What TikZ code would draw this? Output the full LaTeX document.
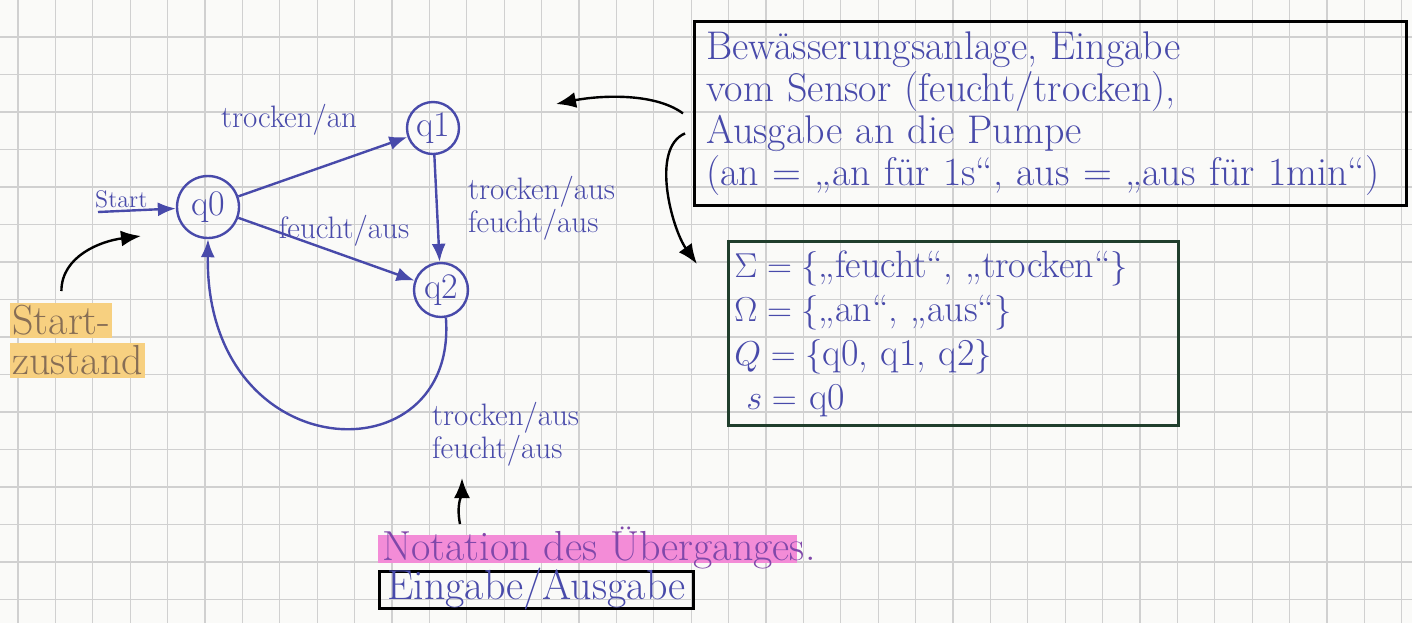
\documentclass[tikz,border=0pt]{standalone}
\usepackage{amsmath}
\usepackage{amssymb}
\usetikzlibrary{positioning, arrows.meta, calc}
\definecolor{ink}{RGB}{72,74,170}
\definecolor{inkpurple}{RGB}{128,72,170}
\definecolor{penbrown}{RGB}{135,110,85}
\definecolor{boxgreen}{RGB}{32,62,44}
\definecolor{hlyellow}{RGB}{247,208,128}
\definecolor{hlpink}{RGB}{243,140,215}
\definecolor{paper}{RGB}{250,250,248}
\definecolor{gridgray}{RGB}{208,208,208}

\begin{document}
\begin{tikzpicture}[x=0.5pt, y=-0.5pt, >=Latex,
  state/.style={draw=ink, circle, line width=1.2pt, text=ink, inner sep=0pt, minimum size=26pt, font=\fontsize{18}{18}\selectfont},
  trans/.style={ink, line width=1.2pt, -{Latex[length=9pt, width=7pt]}},
  lbl/.style={text=ink, font=\fontsize{15.5}{14}\selectfont, align=left, inner sep=1pt},
  annot/.style={black, line width=1.2pt, -{Latex[length=10pt, width=8pt]}},
  note/.style={draw, line width=1.4pt, rectangle, align=left, text=ink, inner sep=0pt},
  marker/.style={text=penbrown, font=\fontsize{21}{21}\selectfont, inner sep=1pt, text height=14.5pt, text depth=1pt, fill=hlyellow}]

  \useasboundingbox (0,0) rectangle (1412,623);
  \fill[paper] (0,0) rectangle (1412,623);
  % squared paper
  \foreach \i in {0,...,37}
    \draw[gridgray, line width=0.6pt] ({18+37.4*\i},0) -- ({18+37.4*\i},623);
  \foreach \j in {0,...,15}
    \draw[gridgray, line width=0.6pt] (0,{37+37.5*\j}) -- (1412,{37+37.5*\j});

  % automaton
  \node[state, minimum size=31pt] (q0) at (208,207) {q0};
  \node[state] (q1) at (433,128) {q1};
  \node[state, minimum size=27pt] (q2) at (441,290) {q2};
  \coordinate (startin) at (98,212);

  \draw[trans] (startin) -- node[lbl, above, pos=0.3, font=\fontsize{12}{12}\selectfont] {Start} (q0);
  \draw[trans] (q0) -- node[lbl, pos=0.3, above=20pt] {trocken/an} (q1);
  \draw[trans] (q0) -- node[lbl, pos=0.6, above=3pt] {feucht/aus} (q2);
  \draw[trans] (q1) -- node[lbl, right=14pt] {trocken/aus\\feucht/aus} (q2);
  \draw[trans] (q2.-80) .. controls (458,480) and (205,470) .. (q0.south)
    node[lbl, pos=0.22, anchor=north west, xshift=4pt] (looplbl) {trocken/aus\\feucht/aus};

  % notes
  \node[note, anchor=north west, minimum width=356pt, minimum height=92pt, text width=344pt,
    font=\fontsize{20}{21}\selectfont] (sysbox) at (693,20)
    {Bewässerungsanlage, Eingabe\\vom Sensor (feucht/trocken),\\Ausgabe an die Pumpe\\(an = „an für 1s“, aus = „aus für 1min“)};
  \node[note, draw=boxgreen, anchor=north west, minimum width=225pt, minimum height=92pt, text width=219pt,
    font=\fontsize{19}{22}\selectfont] (setbox) at (727,240)
    {\mbox{$\Sigma = \{$„feucht“, „trocken“$\}$}\\\mbox{$\Omega = \{$„an“, „aus“$\}$}\\\mbox{$Q = \{$q0, q1, q2$\}$}\\\mbox{\hspace{6pt}$s =$ q0}};

  \fill[hlpink] (378,535) rectangle (797,563);
  \node[text=inkpurple, font=\fontsize{21}{21}\selectfont, anchor=west, inner sep=1pt] (notation) at (380,548) {Notation des Überganges.};
  \node[note, anchor=north west, minimum width=157pt, minimum height=18.5pt, text height=13pt, text depth=3pt,
    font=\fontsize{21}{21}\selectfont] (iobox) at (378,570) {Eingabe/Ausgabe};

  \node[marker, anchor=north west] (start1) at (10,303) {Start-};
  \node[marker, below=2pt of start1.south west, anchor=north west] (start2) {zustand};

  % pointers
  \coordinate (startptr) at (141,236);
  \coordinate (q1ptr) at (556,104);
  \coordinate (setptr) at (697,264);
  \coordinate (notefoot) at (460,524);
  \coordinate (notetip) at (462,478);
  \draw[annot] ([yshift=6pt]start1.north) .. controls +(0,-35) and +(-40,5) .. (startptr);
  \draw[annot] ([xshift=-5pt]sysbox.west) .. controls +(-30,-22) and +(40,-8) .. (q1ptr);
  \draw[annot] ([xshift=-4pt, yshift=-10pt]sysbox.west) .. controls +(-35,15) and +(-25,-35) .. (setptr);
  \draw[annot] (notefoot) .. controls +(-4,-20) and +(0,15) .. (notetip);
\end{tikzpicture}
\end{document}
